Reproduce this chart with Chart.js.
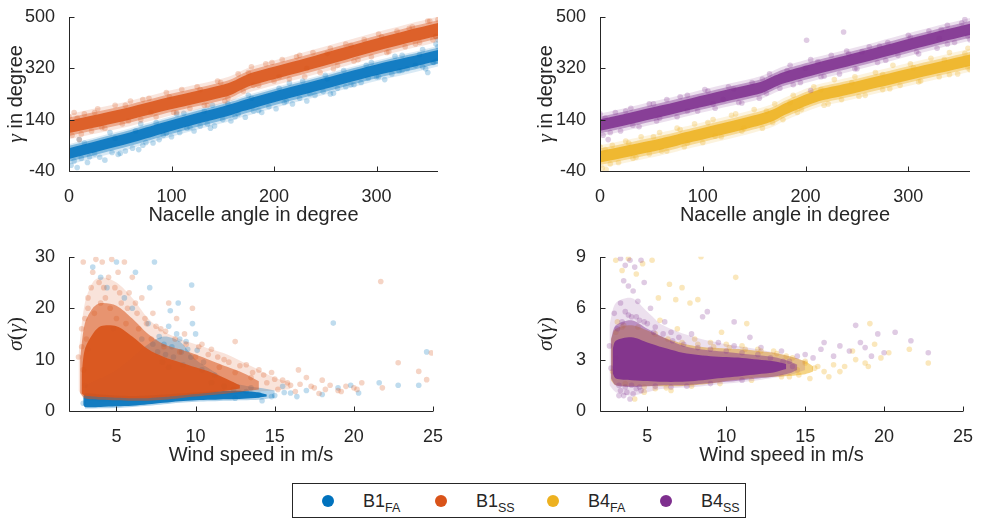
<!DOCTYPE html>
<html>
<head>
<meta charset="utf-8">
<script src="https://cdn.jsdelivr.net/npm/chart.js@4.4.1/dist/chart.umd.min.js"></script>
<style>
  body { margin: 0; background: #fff; }
  #wrap { position: relative; width: 982px; height: 519px; overflow: hidden;
          font-family: "Liberation Sans", Arial, sans-serif; color: #262626; }
  #wrap canvas { position: absolute; }
  #legend { position: absolute; left: 292px; top: 483px; width: 454px; height: 35px;
            box-sizing: border-box; border: 1px solid #262626; background: #fff; }
  .dot { position: absolute; top: 11px; width: 12px; height: 12px; border-radius: 50%; }
  .lab { position: absolute; top: 7.5px; font-size: 18px; line-height: 18px; white-space: nowrap; }
  .lab sub { font-size: 12.5px; line-height: 1; vertical-align: -5px; }
</style>
</head>
<body>
<div id="wrap">
  <canvas id="tl" width="450" height="230" style="left:0;top:0"></canvas>
  <canvas id="tr" width="450" height="230" style="left:530px;top:0"></canvas>
  <canvas id="bl" width="450" height="230" style="left:0;top:240px"></canvas>
  <canvas id="br" width="450" height="230" style="left:530px;top:240px"></canvas>
  <div id="legend">
    <span class="dot" style="left:29px;background:#0072BD"></span><span class="lab" style="left:70px">B1<sub>FA</sub></span>
    <span class="dot" style="left:142px;background:#D95319"></span><span class="lab" style="left:183px">B1<sub>SS</sub></span>
    <span class="dot" style="left:254px;background:#EDB120"></span><span class="lab" style="left:295px">B4<sub>FA</sub></span>
    <span class="dot" style="left:367px;background:#7E2F8E"></span><span class="lab" style="left:408px">B4<sub>SS</sub></span>
  </div>
</div>
<script>
// ---- tick labels ----
const angleTicks = [0, 100, 200, 300];
const gammaTicks = [-40, 140, 320, 500];
const windTicks = [5, 10, 15, 20, 25];
const sigmaTicksB1 = [0, 10, 20, 30];
const sigmaTicksB4 = [0, 3, 6, 9];

// ---- top row: gamma vs nacelle angle, edges of the dense clouds ----
const angleGrid = [0, 30, 60, 90, 120, 150, 160, 170, 180, 210, 240, 270, 300, 330, 360];

const b1faCoreLo = [2, 30, 58, 90, 120, 148, 158, 170, 180, 210, 238, 267, 295, 320, 346];
const b1faCoreHi = [40, 68, 96, 128, 158, 186, 196, 208, 218, 248, 276, 305, 333, 358, 384];
const b1faMidLo = [-8, 20, 48, 80, 110, 138, 148, 160, 170, 200, 228, 257, 285, 310, 336];
const b1faMidHi = [48, 76, 104, 136, 166, 194, 204, 216, 226, 256, 284, 313, 341, 366, 392];
const b1faOutLo = [-18, 10, 38, 70, 100, 128, 138, 150, 160, 190, 218, 247, 275, 300, 326];
const b1faOutHi = [54, 82, 110, 142, 172, 200, 210, 222, 232, 262, 290, 319, 347, 372, 398];

const b1ssCoreLo = [93, 116, 140, 168, 193, 218, 230, 248, 262, 291, 320, 350, 380, 408, 434];
const b1ssCoreHi = [137, 160, 184, 212, 237, 262, 274, 292, 306, 335, 364, 394, 424, 452, 478];
const b1ssMidLo = [83, 106, 130, 158, 183, 208, 220, 238, 252, 281, 310, 340, 370, 398, 424];
const b1ssMidHi = [147, 170, 194, 222, 247, 272, 284, 302, 316, 345, 374, 404, 434, 462, 488];
const b1ssOutLo = [71, 94, 118, 146, 171, 196, 208, 226, 240, 269, 298, 328, 358, 386, 412];
const b1ssOutHi = [159, 182, 206, 234, 259, 284, 296, 314, 328, 357, 386, 416, 446, 474, 500];

const b4faCoreLo = [-10, 12, 35, 62, 88, 115, 125, 138, 157, 201, 226, 252, 278, 303, 328];
const b4faCoreHi = [30, 52, 75, 102, 128, 155, 165, 178, 197, 241, 266, 292, 318, 343, 368];
const b4faMidLo = [-19, 3, 26, 53, 79, 106, 116, 129, 148, 192, 217, 243, 269, 294, 319];
const b4faMidHi = [39, 61, 84, 111, 137, 164, 174, 187, 206, 250, 275, 301, 327, 352, 377];
const b4faOutLo = [-30, -8, 15, 42, 68, 95, 105, 118, 137, 181, 206, 232, 258, 283, 308];
const b4faOutHi = [50, 72, 95, 122, 148, 175, 185, 198, 217, 261, 286, 312, 338, 363, 388];

const b4ssCoreLo = [101, 125, 150, 176, 202, 226, 237, 254, 268, 298, 325, 353, 382, 410, 436];
const b4ssCoreHi = [141, 165, 190, 216, 242, 266, 277, 294, 308, 338, 365, 393, 422, 450, 476];
const b4ssMidLo = [92, 116, 141, 167, 193, 217, 228, 245, 259, 289, 316, 344, 373, 401, 427];
const b4ssMidHi = [150, 174, 199, 225, 251, 275, 286, 303, 317, 347, 374, 402, 431, 459, 485];
const b4ssOutLo = [81, 105, 130, 156, 182, 206, 217, 234, 248, 278, 305, 333, 362, 390, 416];
const b4ssOutHi = [161, 185, 210, 236, 262, 286, 297, 314, 328, 358, 385, 413, 442, 470, 496];

// loose points around the bands
const b1faTopPts = [[2,-20],[5,-5],[8,-28],[12,5],[18,-10],[25,20],[30,8],[35,-2],[42,25],[48,18],[55,30],[62,40],[68,35],[75,60],[82,58],[88,70],[95,92],[100,80],[108,95],[115,110],[122,100],[128,118],[135,125],[142,118],[150,140],[158,135],[165,160],[172,148],[180,170],[188,165],[195,185],[202,178],[210,200],[218,195],[225,215],[232,205],[240,225],[248,238],[255,230],[262,250],[270,255],[278,262],[285,270],[292,285],[300,290],[308,280],[315,300],[322,310],[330,318],[338,330],[345,325],[350,305],[355,340],[358,345],[10,70],[40,95],[70,125],[105,160],[140,190],[175,225],[215,268],[250,295],[290,330],[325,365],[345,385],[358,405],[360,420],
  [15,58],[20,10],[45,75],[50,22],[65,100],[72,50],[85,130],[92,85],[112,162],[118,112],[132,170],[138,110],[155,195],[162,150],[178,215],[185,172],[205,250],[212,205],[228,275],[235,230],[252,282],[258,232],[268,312],[275,262],[295,340],[302,290],[318,362],[325,312],[342,368],[348,318],[360,395],[356,340]];
const b1ssTopPts = [[0,150],[3,85],[5,165],[10,70],[15,160],[22,100],[28,178],[35,110],[45,190],[52,125],[60,205],[70,140],[78,215],[85,150],[95,235],[102,165],[110,245],[118,180],[125,255],[132,190],[145,275],[152,205],[165,300],[170,240],[178,325],[185,260],[192,335],[200,275],[208,350],[215,282],[222,360],[230,290],[238,375],[245,305],[255,390],[262,330],[270,405],[278,345],[288,420],[295,360],[302,440],[310,375],[320,450],[328,395],[335,465],[342,410],[350,485],[355,420],[360,490],[358,430],
  [8,145],[12,90],[25,165],[32,112],[55,190],[58,135],[72,210],[80,165],[98,220],[105,165],[128,245],[135,190],[148,270],[155,215],[175,305],[180,260],[198,340],[205,290],[225,365],[232,320],[252,372],[258,318],[275,400],[282,350],[305,430],[312,378],[332,460],[338,405],[352,485],[358,432]];
const b4faTopPts = [[0,45],[2,-30],[6,-35],[12,50],[18,-10],[25,65],[32,5],[40,80],[48,20],[58,95],[65,30],[75,110],[82,45],[92,125],[100,60],[110,140],[118,80],[128,155],[138,100],[150,175],[158,110],[170,195],[178,140],[188,225],[196,175],[208,255],[218,190],[228,280],[235,210],[248,290],[258,225],[268,305],[275,245],[285,330],[292,260],[302,335],[312,275],[322,355],[330,290],[340,375],[348,300],[358,390],[360,315],
  [5,35],[10,-15],[28,58],[35,8],[52,80],[60,30],[78,105],[85,58],[105,130],[112,82],[132,160],[140,110],[162,170],[168,130],[185,200],[192,165],[215,245],[222,195],[245,270],[252,222],[275,298],[282,248],[305,322],[310,272],[335,350],[340,298],[355,372],[358,322]];
const b4ssTopPts = [[0,160],[3,85],[8,70],[15,165],[20,100],[30,180],[38,115],[48,195],[55,135],[65,210],[75,150],[85,225],[95,170],[105,240],[112,180],[125,255],[135,200],[148,270],[155,215],[165,300],[175,250],[185,330],[195,270],[205,350],[215,290],[225,365],[233,300],[240,380],[250,318],[262,395],[270,340],[280,410],[290,365],[300,435],[310,370],[320,450],[328,390],[338,470],[345,410],[355,490],[360,420],[120,210],[200,320],[255,378],[330,425],[201,418],[237,447],[205,242],
  [5,145],[10,95],[25,170],[32,120],[52,195],[58,145],[78,220],[85,170],[102,245],[110,195],[130,248],[138,198],[158,282],[162,232],[182,312],[188,262],[212,342],[218,292],[242,370],[248,318],[272,398],[278,348],[302,428],[308,378],[332,455],[338,405],[352,478],[358,432]];

// ---- bottom row: sigma(gamma) vs wind speed ----
const b1faCoreX = [2.9, 3, 4, 5, 6, 7, 8, 9, 10, 11, 12, 13, 14, 14.5];
const b1faCoreLoW = [1.2, 0.8, 0.8, 0.9, 1.0, 1.3, 1.6, 1.9, 2.1, 2.2, 2.3, 2.4, 2.6, 2.8];
const b1faCoreHiW = [2.5, 3.4, 3.2, 3.0, 2.9, 3.0, 3.2, 3.4, 3.6, 3.8, 3.9, 3.9, 3.6, 3.2];
const b1faHaloX = [3, 5, 7, 8, 9, 10, 11, 12, 13, 14, 15];
const b1faHaloLoW = [0.5, 0.6, 1.0, 1.3, 1.6, 1.8, 1.9, 2.0, 2.1, 2.2, 2.6];
const b1faHaloHiW = [5, 8, 13, 14.5, 13.5, 10, 8, 6, 5, 4.5, 4];

const b1ssCoreX = [2.8, 3, 3.5, 4, 5, 6, 7, 8, 9, 10, 11, 12, 12.8];
const b1ssCoreLoW = [3.4, 3.0, 2.8, 2.7, 2.6, 2.5, 2.5, 2.7, 3.0, 3.3, 3.6, 4.0, 4.4];
const b1ssCoreHiW = [7, 12, 15, 16.5, 16.5, 14.5, 12, 10.5, 9.5, 8.5, 7.5, 6.2, 5];
const b1ssMidX = [2.7, 3, 3.5, 4, 5, 6, 7, 8, 9, 10, 11, 12, 13, 14];
const b1ssMidLoW = [3.5, 2.5, 2.3, 2.2, 2.1, 2.0, 2.0, 2.2, 2.5, 2.8, 3.1, 3.4, 3.8, 4.2];
const b1ssMidHiW = [10, 17, 20, 21, 20.5, 18, 15, 13, 12, 11, 9.8, 8.6, 7.4, 5.8];
const b1ssOutX = [2.6, 3, 3.5, 4, 5, 6, 7, 8, 9, 10, 11, 12, 13, 14, 15, 16];
const b1ssOutLoW = [4, 2.2, 2.0, 1.9, 1.8, 1.8, 1.8, 2.0, 2.3, 2.6, 2.9, 3.2, 3.5, 3.8, 4.0, 4.3];
const b1ssOutHiW = [11, 21, 25, 26, 25, 22, 18, 15.5, 14, 13, 12, 11, 9.5, 8, 6.5, 5.5];

const b4faBandX = [2.7, 3, 4, 5, 6, 7, 8, 9, 10, 11, 12, 13, 14, 15, 15.5];
const b4faBandLoW = [1.8, 1.5, 1.45, 1.45, 1.45, 1.45, 1.5, 1.6, 1.75, 1.85, 1.95, 2.0, 2.05, 2.15, 2.3];
const b4faBandHiW = [4.2, 4.8, 5.0, 4.7, 4.3, 4.0, 3.8, 3.7, 3.65, 3.6, 3.5, 3.4, 3.2, 2.9, 2.6];

const b4ssCoreX = [2.8, 3, 4, 5, 6, 7, 8, 9, 10, 11, 12, 13, 13.8];
const b4ssCoreLoW = [2.2, 1.9, 1.8, 1.75, 1.7, 1.7, 1.75, 1.85, 1.95, 2.05, 2.15, 2.25, 2.45];
const b4ssCoreHiW = [3.6, 4.1, 4.3, 4.0, 3.7, 3.45, 3.3, 3.2, 3.15, 3.1, 3.0, 2.9, 2.75];
const b4ssMidX = [2.7, 3, 4, 5, 6, 7, 8, 10, 12, 13, 14, 14.5];
const b4ssMidLoW = [1.9, 1.5, 1.4, 1.45, 1.5, 1.5, 1.55, 1.7, 1.9, 2.0, 2.2, 2.4];
const b4ssMidHiW = [4.2, 5.0, 5.3, 4.8, 4.3, 3.9, 3.65, 3.45, 3.25, 3.15, 2.9, 2.7];
const b4ssOutX = [2.6, 3, 4, 5, 6, 8, 10, 12, 14, 15];
const b4ssOutLoW = [1.5, 1.1, 0.9, 1.1, 1.3, 1.4, 1.6, 1.8, 2.1, 2.4];
const b4ssOutHiW = [5, 6.3, 6.6, 5.8, 5.0, 4.3, 3.9, 3.6, 3.2, 2.9];

const b1faBotPts = [[3.5,28],[4.0,26],[4.4,24],[5.0,29],[5.5,22],[6.2,27],[7.4,29],[7.1,24],[8.3,16.5],[8.9,21],[9.0,14],[9.5,12],[9.75,24.5],[8.0,13],[7.6,11.5],[8.6,10.5],[9.2,9],[10.4,8],[11.2,7],[7.0,17],[6.0,20],[9.8,17],[8.4,19.5],[10.0,15],[15,3],[16,3.5],[17,4],[18,3.2],[18.7,17.1],[19,4.5],[19.8,5],[20.3,3.5],[21.6,5.5],[22.8,5],[24.1,5],[24.6,11.5],[14.2,2],[15.5,4.8],[12.5,2.5],[13.5,4.5],[3.2,12],[3.0,5],[2.9,1.5],[4.8,16],[6.6,14],
  [7.3,13],[7.7,14.5],[8.1,11],[8.5,12.5],[8.8,15],[9.1,11.5],[9.4,13.5],[9.7,10.5],[10.1,11.8],[10.5,9.5],[7.9,9.5],[8.3,8.5],[11,5.5],[11.8,4.8],[12.4,4.2],[13.2,3.8],[14,3.2],[14.8,2.8],[15.6,3.6],[16.4,2.8]];
const b1ssBotPts = [[2.9,29],[3.2,20],[3.5,27],[3.7,29.5],[3.9,25],[4.1,29],[4.3,22],[4.5,26],[4.7,29.5],[4.9,24],[5.1,27],[5.3,21],[5.5,29],[5.8,23],[6.0,26],[6.3,19],[6.6,22],[6.9,17],[7.3,19],[7.8,16],[8.3,21],[8.8,18],[9.3,15],[9.8,20],[10.4,13],[11,12],[11.8,10],[12.5,13.5],[13.2,9],[14,8],[14.8,7.5],[15.5,6],[16,5],[16.5,8],[17,6.5],[17.5,4.5],[18,6],[18.5,5],[19,4],[19.5,4.8],[20,4.5],[20.5,5.5],[21.7,25.2],[21.8,4.5],[22.8,9.4],[24.1,7.7],[24.9,11.3],[24.6,6.1],[2.6,10.5],[2.8,16],[3.0,18],[3.4,24],[4.0,21],[5.0,18],[5.6,17],[6.4,16],[7.2,14],[8.0,12.5],[9.0,11.5],[10.0,10.5],[11.5,8.5],[12.5,7.5],[13.5,6.5],[14.5,5.5],[15.2,4.2],[16.3,3.8],[17.8,3.4],
  [3.2,22],[3.6,19],[4.2,24],[4.6,20],[5.2,23],[5.7,20],[6.2,21],[6.8,18],[7.5,16.5],[8.1,15.5],[8.7,14],[9.4,13],[10.2,12.5],[10.8,11],[11.4,10.5],[12.1,9.5],[12.8,8.8],[13.6,7.5],[14.3,7],[15,6.2],[15.8,5.5],[16.6,5.2],[17.3,4.8],[18.2,4.2],[19.2,3.8],[20.2,4.2],[3.1,14],[2.9,8],[2.8,12.5]];
const b4faBotPts = [[3.0,8.8],[3.4,8.2],[3.8,8.9],[4.3,8.0],[4.7,8.6],[5.3,8.8],[8.4,9.0],[7.2,7.2],[6.4,7.4],[5.7,6.6],[6.8,6.5],[7.7,6.3],[8.2,6.5],[10.6,7.8],[11.3,5.1],[9.7,4.6],[3.1,5.2],[3.4,4.9],[5.8,5.3],[6.9,4.8],[8.0,4.2],[9.0,4.0],[10.0,3.9],[11.0,3.8],[12.0,3.6],[13.0,3.5],[13.8,3.2],[14.5,2.4],[15.0,2.8],[15.6,2.5],[16.2,2.3],[16.8,2.7],[17.5,2.6],[18.2,3.0],[18.8,2.8],[19.1,5.1],[19.4,3.9],[20.3,3.4],[21.6,3.6],[22.8,2.8],[3.6,1.6],[4.2,0.7],[4.8,1.1],[5.5,1.3],[6.5,1.2],[2.8,2.3],[3.0,3.1],[14.0,2.0],[15.3,1.9],[16.5,2.0],[17.2,2.3],[19.0,2.6],[18.0,3.5],[19.8,3.1],
  [3.0,4.6],[3.5,5.0],[4.4,4.9],[5.5,4.5],[6.3,4.2],[7.2,4.0],[8.2,3.9],[9.2,3.75],[10.2,3.7],[11.2,3.6],[12.2,3.5],[13.2,3.35],[14.2,3.1],[15,2.9],[15.8,2.6],[4.8,1.4],[6.2,1.35],[7.8,1.45],[9.6,1.6],[11.6,1.8],[13.5,2.0],[14.6,2.1]];
const b4ssBotPts = [[3.3,8.9],[3.6,8.5],[3.9,8.8],[4.2,8.4],[4.6,8.8],[3.5,7.6],[3.8,7.3],[4.1,7.0],[4.4,6.4],[4.8,7.5],[5.2,6.0],[3.3,6.3],[3.6,5.8],[4.0,5.5],[4.5,5.3],[5.0,5.1],[5.5,4.9],[6.1,5.2],[6.5,4.6],[7.0,4.3],[7.8,4.5],[8.8,5.8],[9.5,4.0],[10.5,3.8],[11.5,4.3],[12.2,3.7],[13.5,3.5],[14.0,2.9],[14.5,3.2],[15,3.3],[15.5,3.1],[16,3.6],[16.2,4.0],[16.8,3.2],[17.2,3.8],[17.8,3.5],[18.2,5.0],[18.5,4.0],[18.8,3.7],[19.2,3.2],[19.6,4.5],[20.0,3.4],[20.7,4.6],[21.7,4.1],[22.8,3.4],[3.3,1.2],[3.5,0.9],[3.7,1.1],[3.9,0.7],[4.1,1.0],[4.3,1.3],[3.6,1.4],[4.0,1.5],[4.6,1.2],[3.2,0.9],[2.6,3.8],[2.7,2.5],[2.9,5.7],[10.5,5.2],[8.5,5.5],
  [3.1,4.8],[3.4,5.2],[3.8,5.6],[4.3,5.5],[4.8,5.2],[5.4,4.6],[6,4.5],[6.6,4.1],[7.3,3.9],[8.2,3.7],[9,3.6],[10,3.5],[11,3.4],[12,3.3],[12.8,3.1],[13.6,2.9],[14.2,2.6],[3.2,1.5],[4.5,1.4],[5.5,1.45],[6.5,1.4],[7.5,1.45],[9,1.6],[11,1.8]];

// ---- styling ----
const FONT = '"Liberation Sans", Arial, sans-serif';
const INK = '#262626';
const rgb = { b1fa: '0,114,189', b1ss: '217,83,25', b4fa: '237,177,32', b4ss: '126,47,142' };
const rgba = (c, a) => 'rgba(' + c + ',' + a + ')';

// two edge lines, area filled between them
function band(xs, lo, hi, color) {
  const edge = { type: 'line', pointRadius: 0, borderWidth: 0, borderColor: 'transparent', tension: 0.3 };
  return [
    Object.assign({}, edge, { data: xs.map((x, i) => ({ x: x, y: lo[i] })), fill: false }),
    Object.assign({}, edge, { data: xs.map((x, i) => ({ x: x, y: hi[i] })), fill: '-1', backgroundColor: color })
  ];
}
function dots(pts, color) {
  return { type: 'scatter', data: pts.map(p => ({ x: p[0], y: p[1] })), pointRadius: 2.8,
           pointHoverRadius: 0, backgroundColor: color, borderWidth: 0 };
}

// rotated y title with italic greek letters
const yTitlePlugin = {
  id: 'yTitle',
  afterDraw(chart, args, opts) {
    if (!opts.parts) return;
    const { ctx, chartArea: a } = chart;
    ctx.save();
    ctx.translate(opts.x, (a.top + a.bottom) / 2);
    ctx.rotate(-Math.PI / 2);
    let w = 0;
    opts.parts.forEach(p => { ctx.font = p.font; p.w = ctx.measureText(p.text).width; w += p.w; });
    let x = -w / 2;
    ctx.fillStyle = INK;
    ctx.textBaseline = 'alphabetic';
    opts.parts.forEach(p => { ctx.font = p.font; ctx.fillText(p.text, x, 0); x += p.w; });
    ctx.restore();
  }
};

// left/bottom axis lines with ticks pointing inwards (drawn over the data)
const axisPlugin = {
  id: 'axisLines',
  afterDatasetsDraw(chart) {
    const { ctx, chartArea: a, scales } = chart;
    const L = Math.round(a.left) + 0.5, B = Math.round(a.bottom) + 0.5;
    ctx.save();
    ctx.strokeStyle = INK;
    ctx.lineWidth = 1;
    ctx.beginPath();
    ctx.moveTo(L, Math.round(a.top));
    ctx.lineTo(L, B);
    ctx.lineTo(Math.round(a.right), B);
    scales.x.ticks.forEach(t => {
      const px = Math.round(scales.x.getPixelForValue(t.value)) + 0.5;
      ctx.moveTo(px, B); ctx.lineTo(px, B - 5);
    });
    scales.y.ticks.forEach(t => {
      const py = Math.round(scales.y.getPixelForValue(t.value)) + 0.5;
      ctx.moveTo(L, py); ctx.lineTo(L + 5, py);
    });
    ctx.stroke();
    ctx.restore();
  }
};
Chart.register(yTitlePlugin, axisPlugin);

function makeChart(id, sets, sc, yParts, yWidth, padRight) {
  sets.forEach((d, i) => { d.order = sets.length - i; });
  return new Chart(document.getElementById(id), {
    type: 'scatter',
    data: { datasets: sets },
    options: {
      responsive: false,
      animation: false,
      events: [],
      layout: { padding: { left: 0, top: 14, right: padRight, bottom: 0 } },
      plugins: {
        legend: { display: false },
        tooltip: { enabled: false },
        yTitle: { x: 22, parts: yParts }
      },
      scales: {
        x: {
          type: 'linear', min: sc.xMin, max: sc.xMax,
          afterBuildTicks: s => { s.ticks = sc.xTicks.map(v => ({ value: v })); },
          afterFit: s => { s.height = 59; },
          grid: { display: false }, border: { display: false },
          ticks: { color: INK, font: { family: FONT, size: 18 }, padding: 7, maxRotation: 0 },
          title: { display: true, text: sc.xTitle, color: INK,
                   font: { family: FONT, size: 20 }, padding: { top: 0, bottom: 3 } }
        },
        y: {
          type: 'linear', min: sc.yMin, max: sc.yMax,
          afterBuildTicks: s => { s.ticks = sc.yTicks.map(v => ({ value: v })); },
          afterFit: s => { s.width = yWidth; },
          grid: { display: false }, border: { display: false },
          ticks: { color: INK, font: { family: FONT, size: 18 }, padding: 6 }
        }
      }
    }
  });
}

const gammaTitle = [
  { text: 'γ', font: 'italic 22px "Liberation Serif"' },
  { text: ' in degree', font: '20px ' + FONT }
];
const sigmaTitle = [
  { text: 'σ', font: 'italic 22px "Liberation Serif"' },
  { text: '(', font: '22px "Liberation Serif"' },
  { text: 'γ', font: 'italic 22px "Liberation Serif"' },
  { text: ')', font: '22px "Liberation Serif"' }
];
const topScales = { xMin: 0, xMax: 360, xTicks: angleTicks, xTitle: 'Nacelle angle in degree',
                    yMin: -40, yMax: 500, yTicks: gammaTicks };

makeChart('tl', [].concat(
  band(angleGrid, b1faOutLo, b1faOutHi, rgba(rgb.b1fa, 0.15)),
  band(angleGrid, b1faMidLo, b1faMidHi, rgba(rgb.b1fa, 0.4)),
  band(angleGrid, b1faCoreLo, b1faCoreHi, rgba(rgb.b1fa, 0.85)),
  [dots(b1faTopPts, rgba(rgb.b1fa, 0.25))],
  band(angleGrid, b1ssOutLo, b1ssOutHi, rgba(rgb.b1ss, 0.15)),
  band(angleGrid, b1ssMidLo, b1ssMidHi, rgba(rgb.b1ss, 0.4)),
  band(angleGrid, b1ssCoreLo, b1ssCoreHi, rgba(rgb.b1ss, 0.85)),
  [dots(b1ssTopPts, rgba(rgb.b1ss, 0.25))]
), topScales, gammaTitle, 69, 12);

makeChart('tr', [].concat(
  band(angleGrid, b4faOutLo, b4faOutHi, rgba(rgb.b4fa, 0.15)),
  band(angleGrid, b4faMidLo, b4faMidHi, rgba(rgb.b4fa, 0.4)),
  band(angleGrid, b4faCoreLo, b4faCoreHi, rgba(rgb.b4fa, 0.85)),
  [dots(b4faTopPts, rgba(rgb.b4fa, 0.28))],
  band(angleGrid, b4ssOutLo, b4ssOutHi, rgba(rgb.b4ss, 0.15)),
  band(angleGrid, b4ssMidLo, b4ssMidHi, rgba(rgb.b4ss, 0.4)),
  band(angleGrid, b4ssCoreLo, b4ssCoreHi, rgba(rgb.b4ss, 0.85)),
  [dots(b4ssTopPts, rgba(rgb.b4ss, 0.25))]
), topScales, gammaTitle, 70, 10);

makeChart('bl', [].concat(
  band(b1ssOutX, b1ssOutLoW, b1ssOutHiW, rgba(rgb.b1ss, 0.16)),
  band(b1faHaloX, b1faHaloLoW, b1faHaloHiW, rgba(rgb.b1fa, 0.3)),
  band(b1faCoreX, b1faCoreLoW, b1faCoreHiW, rgba(rgb.b1fa, 0.9)),
  [dots(b1faBotPts, rgba(rgb.b1fa, 0.25))],
  band(b1ssMidX, b1ssMidLoW, b1ssMidHiW, rgba(rgb.b1ss, 0.55)),
  band(b1ssCoreX, b1ssCoreLoW, b1ssCoreHiW, rgba(rgb.b1ss, 0.9)),
  [dots(b1ssBotPts, rgba(rgb.b1ss, 0.25))]
), { xMin: 2, xMax: 25, xTicks: windTicks, xTitle: 'Wind speed in m/s',
     yMin: 0, yMax: 30, yTicks: sigmaTicksB1 }, sigmaTitle, 69, 12);

makeChart('br', [].concat(
  band(b4faBandX, b4faBandLoW, b4faBandHiW, rgba(rgb.b4fa, 0.55)),
  [dots(b4faBotPts, rgba(rgb.b4fa, 0.3))],
  band(b4ssOutX, b4ssOutLoW, b4ssOutHiW, rgba(rgb.b4ss, 0.15)),
  band(b4ssMidX, b4ssMidLoW, b4ssMidHiW, rgba(rgb.b4ss, 0.45)),
  band(b4ssCoreX, b4ssCoreLoW, b4ssCoreHiW, rgba(rgb.b4ss, 0.9)),
  [dots(b4ssBotPts, rgba(rgb.b4ss, 0.25))]
), { xMin: 2, xMax: 25, xTicks: windTicks, xTitle: 'Wind speed in m/s',
     yMin: 0, yMax: 9, yTicks: sigmaTicksB4 }, sigmaTitle, 70, 10);
</script>
</body>
</html>
